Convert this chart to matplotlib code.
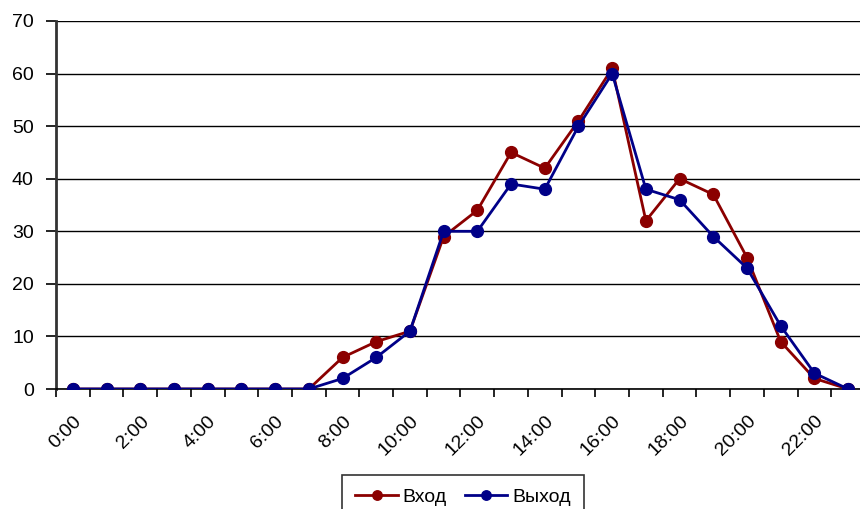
import matplotlib.pyplot as plt
import numpy as np

plt.rcParams['font.family'] = ['Liberation Sans', 'DejaVu Sans']

hours = [f'{h}:00' for h in range(24)]
vhod = [0, 0, 0, 0, 0, 0, 0, 0, 6, 9, 11, 29, 34, 45, 42, 51, 61, 32, 40, 37, 25, 9, 2, 0]
vyhod = [0, 0, 0, 0, 0, 0, 0, 0, 2, 6, 11, 30, 30, 39, 38, 50, 60, 38, 36, 29, 23, 12, 3, 0]

fig = plt.figure(figsize=(8.6, 5.09), dpi=100)
ax = fig.add_axes([56 / 860, 120 / 509, 809 / 860, 368 / 509])

x = np.arange(len(hours))
ax.plot(x, vhod, color='#8B0000', lw=2, marker='o', ms=8.5, label='Вход', zorder=3)
ax.plot(x, vyhod, color='#000088', lw=2, marker='o', ms=8.5, label='Выход', zorder=4)

ax.set_xlim(-0.5, 23.5)
ax.set_ylim(0, 70)
ax.set_yticks(range(0, 71, 10))
ax.yaxis.grid(True, color='black', lw=1)
ax.set_axisbelow(True)

# category boundaries get tick marks, labels sit on every second hour
ax.set_xticks(np.arange(-0.5, 24, 1), minor=True)
ax.set_xticks(x[::2])
ax.set_xticklabels(hours[::2], rotation=45, ha='right', va='top', rotation_mode='anchor')
ax.tick_params(axis='x', which='major', length=0, pad=17, labelsize=14)
ax.tick_params(axis='x', which='minor', length=6, width=1.2, direction='out')
ax.tick_params(axis='y', length=7, width=1.2, pad=9, labelsize=14)

for s in ['top', 'right']:
    ax.spines[s].set_visible(False)
ax.spines['left'].set_linewidth(2)
ax.spines['left'].set_color('#333333')
ax.spines['bottom'].set_linewidth(1.2)

leg = fig.legend(loc='upper center', bbox_to_anchor=(463 / 860, 34 / 509), ncol=2,
                 frameon=True, fancybox=False, edgecolor='black', fontsize=14,
                 handlelength=2.2, columnspacing=0.9, handletextpad=0.25,
                 borderpad=0.7, borderaxespad=0, markerscale=0.8)
leg.get_frame().set_linewidth(1.2)

fig.savefig('out.png', dpi=100)
